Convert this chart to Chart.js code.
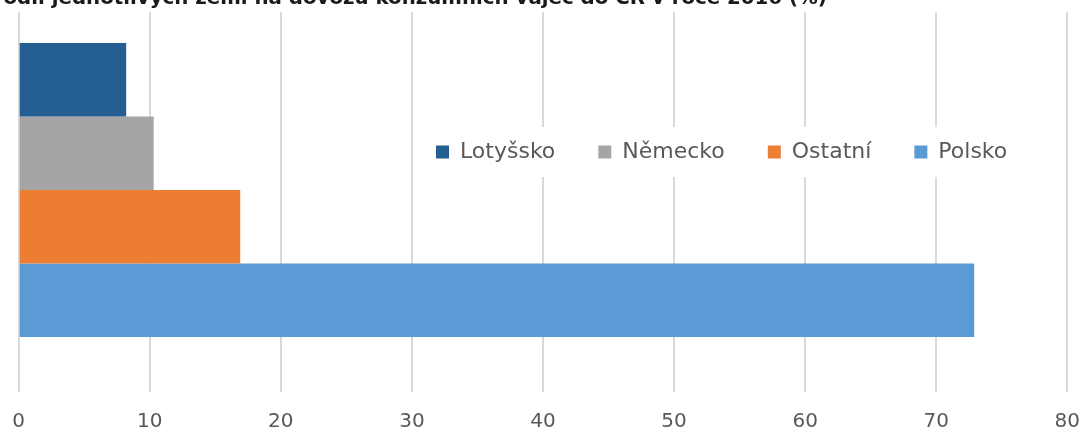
<!DOCTYPE html>
<html lang="cs">
<head>
<meta charset="utf-8">
<script src="https://cdn.jsdelivr.net/npm/chart.js@4.4.1/dist/chart.umd.min.js"></script>
<style>
  html, body { margin: 0; padding: 0; background: #fff; overflow: hidden; width: 1087px; height: 430px; }
  #wrap { position: absolute; left: -12px; top: -14px; width: 1110px; height: 551px; }
</style>
</head>
<body>
<div id="wrap"><canvas id="podilChart" width="1110" height="551"></canvas></div>
<script>
const titleText = 'Podíl jednotlivých zemí na dovozu konzumních vajec do ČR v roce 2016 (%)';
const countries = ['Lotyšsko', 'Německo', 'Ostatní', 'Polsko'];
const shares = [8.2, 10.3, 16.9, 72.9];
const colors = ['#255e91', '#a5a5a5', '#ed7d31', '#5b9bd5'];
const xTicks = [0, 10, 20, 30, 40, 50, 60, 70, 80];

// legend sits inside the plot in the original, over a white patch
const legendInPlot = {
    id: 'legendInPlot',
    afterLayout(chart) {
        const lg = chart.legend;
        const pad = lg.options.labels.padding;
        const itemH = lg.options.labels.font.size;
        lg.left = 448 - pad;
        lg.right = lg.left + lg.width;
        lg.top = 166 - pad - itemH / 2;
        lg.bottom = lg.top + lg.height;
    },
    beforeDatasetsDraw(chart) {
        const lg = chart.legend;
        const boxes = lg.legendHitBoxes;
        const first = boxes[0];
        const last = boxes[boxes.length - 1];
        const ctx = chart.ctx;
        ctx.save();
        ctx.fillStyle = '#ffffff';
        ctx.fillRect(first.left - 12, first.top - 14, last.left + last.width - first.left + 24, first.height + 28);
        ctx.restore();
        lg.draw();
    }
};

var ctx = document.getElementById('podilChart').getContext('2d');
var podilChart = new Chart(ctx, {
    type: 'bar',
    data: {
        labels: ['2016'],
        datasets: countries.map((name, i) => ({
            label: name,
            data: [shares[i]],
            backgroundColor: colors[i],
            borderWidth: 0,
            categoryPercentage: 0.826,
            barPercentage: 1
        }))
    },
    options: {
        indexAxis: 'y',
        responsive: false,
        animation: false,
        layout: {
            padding: { left: 1, right: 20, top: 0, bottom: 10 }
        },
        plugins: {
            title: {
                display: true,
                text: titleText,
                align: 'start',
                color: '#1a1a1a',
                font: { family: 'DejaVu Sans', size: 19.8, weight: 'bold' },
                padding: { top: 1, bottom: 1.3 }
            },
            legend: {
                position: 'bottom',
                align: 'start',
                labels: {
                    boxWidth: 13,
                    boxHeight: 13,
                    padding: 43,
                    color: '#595959',
                    font: { family: 'DejaVu Sans', size: 22 }
                }
            },
            tooltip: { enabled: false }
        },
        scales: {
            x: {
                type: 'linear',
                min: xTicks[0],
                max: xTicks[xTicks.length - 1],
                ticks: {
                    stepSize: xTicks[1] - xTicks[0],
                    color: '#595959',
                    padding: 18,
                    font: { family: 'DejaVu Sans', size: 20 }
                },
                grid: {
                    color: '#d9d9d9',
                    lineWidth: 2,
                    tickLength: 24,
                    tickColor: '#d9d9d9',
                    tickWidth: 2,
                    z: -1
                },
                border: { display: false }
            },
            y: {
                type: 'category',
                ticks: { display: false },
                grid: { display: false },
                border: { display: false },
                afterFit(scale) {
                    scale.width = 29.7;
                }
            }
        }
    },
    plugins: [legendInPlot]
});
</script>
</body>
</html>
